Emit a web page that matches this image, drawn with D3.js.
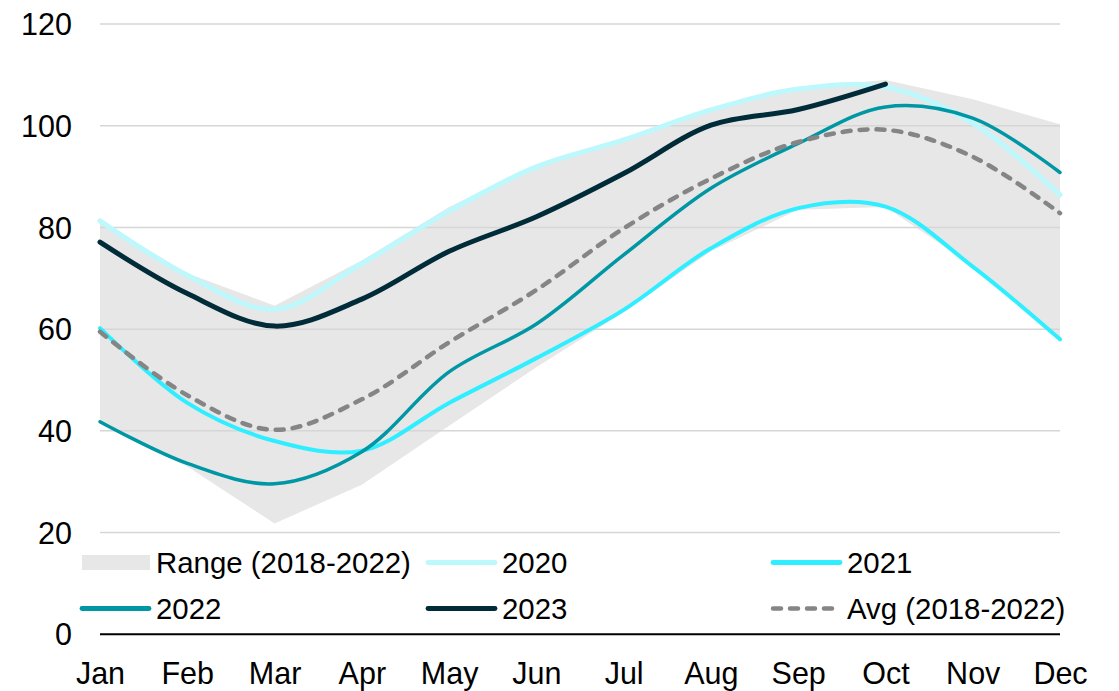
<!DOCTYPE html>
<html><head><meta charset="utf-8">
<script src="https://cdn.jsdelivr.net/npm/d3@7"></script>
<style>
html,body{margin:0;padding:0;background:#fff;}
svg{display:block;font-family:Arial,"Liberation Sans",sans-serif;}
</style></head>
<body>
<svg id="chart" width="1119" height="691"></svg>
<script>
const months = ["Jan","Feb","Mar","Apr","May","Jun","Jul","Aug","Sep","Oct","Nov","Dec"];
const yTicks = [0,20,40,60,80,100,120];
const rangeLow  = [41.8, 33.0, 21.8, 29.4, 41.0, 52.5, 63.3, 75.3, 83.5, 84.0, 72.5, 58.0];
const rangeHigh = [81.3, 71.0, 64.6, 73.5, 84.0, 92.3, 97.5, 103.5, 107.5, 109.0, 105.2, 100.3];
const s2020 = [81.3, 70.6, 63.9, 72.9, 83.2, 91.9, 97.2, 103.1, 107.2, 107.6, 100.5, 86.4];
const s2021 = [60.2, 45.5, 38.0, 36.1, 45.5, 54.3, 63.8, 75.9, 83.8, 84.1, 72.3, 58.0];
const s2022 = [41.8, 33.6, 29.6, 35.9, 51.6, 61.0, 74.6, 87.7, 96.5, 103.7, 101.5, 90.8];
const s2023 = [77.1, 67.0, 60.6, 65.9, 75.3, 82.1, 90.6, 100.1, 103.2, 108.2];
const sAvg  = [59.5, 47.0, 40.2, 46.2, 57.4, 67.7, 79.8, 89.6, 96.8, 99.2, 93.9, 82.8];

const svg = d3.select("#chart");
const x = d3.scalePoint().domain(months).range([100, 1060]).padding(0);
const y = d3.scaleLinear().domain([0, 120]).range([634.3, 24]);

// range band
const area = d3.area()
  .x((d, i) => x(months[i]))
  .y0(d => y(d[0]))
  .y1(d => y(d[1]));
svg.append("path")
  .datum(rangeLow.map((v, i) => [v, rangeHigh[i]]))
  .attr("d", area)
  .attr("fill", "#e7e7e7");

// gridlines
svg.append("g").selectAll("line").data(yTicks.filter(t => t > 0)).join("line")
  .attr("x1", 100).attr("x2", 1060)
  .attr("y1", d => y(d)).attr("y2", d => y(d))
  .attr("stroke", "#d6d6d6").attr("stroke-width", 1.5);

// y axis labels
const yAxis = d3.axisLeft(y).tickValues(yTicks).tickSize(0).tickPadding(0);
const gy = svg.append("g").attr("transform", "translate(72,0)").call(yAxis);
gy.select(".domain").remove();
gy.selectAll("text").attr("font-size", 30.5).attr("fill", "#000")
  .attr("font-family", "Arial, 'Liberation Sans', sans-serif").attr("dy", "0.35em");

// x axis
const xAxis = d3.axisBottom(x).tickSize(0).tickPadding(0);
const gx = svg.append("g").attr("transform", "translate(0,634.3)").call(xAxis);
gx.select(".domain").attr("stroke", "#000").attr("stroke-width", 2).attr("d", "M100,0H1060");
gx.selectAll("text").attr("font-size", 30.5).attr("fill", "#000")
  .attr("font-family", "Arial, 'Liberation Sans', sans-serif").attr("y", 49.5).attr("dy", 0);

// lines
const line = d3.line()
  .x((d, i) => x(months[i]))
  .y(d => y(d))
  .curve(d3.curveCatmullRom.alpha(0.5));

const series = [
  {name: "2020", data: s2020, color: "#bdf8fc", width: 5},
  {name: "2021", data: s2021, color: "#2feeff", width: 4},
  {name: "2022", data: s2022, color: "#0097a5", width: 3.5},
  {name: "2023", data: s2023, color: "#002b38", width: 5},
  {name: "Avg (2018-2022)", data: sAvg, color: "#858585", width: 4.5, dash: "8,9"}
];
series.forEach(s => {
  svg.append("path").datum(s.data).attr("d", line)
    .attr("fill", "none").attr("stroke", s.color).attr("stroke-width", s.width)
    .attr("stroke-linecap", "round").attr("stroke-linejoin", "round")
    .attr("stroke-dasharray", s.dash || null);
});

// legend
const legend = [
  {label: "Range (2018-2022)", type: "rect", x: 82, y: 562.5},
  {label: "2020", s: series[0], x: 428, y: 562.5},
  {label: "2021", s: series[1], x: 773, y: 562.5},
  {label: "2022", s: series[2], x: 82, y: 608.5},
  {label: "2023", s: series[3], x: 428, y: 608.5},
  {label: "Avg (2018-2022)", s: series[4], x: 773, y: 608.5}
];
const lg = svg.append("g");
legend.forEach(l => {
  if (l.type === "rect") {
    lg.append("rect").attr("x", l.x).attr("y", l.y - 7.5).attr("width", 68).attr("height", 15).attr("fill", "#e7e7e7");
  } else {
    lg.append("line").attr("x1", l.x).attr("x2", l.x + 67).attr("y1", l.y).attr("y2", l.y)
      .attr("stroke", l.s.color).attr("stroke-width", l.s.dash ? 4.5 : 4.8)
      .attr("stroke-linecap", "round").attr("stroke-dasharray", l.s.dash || null);
  }
  lg.append("text").attr("x", l.x + 74).attr("y", l.y).attr("dy", "0.35em")
    .attr("font-size", 29.4).attr("fill", "#000").text(l.label);
});
</script>
</body></html>
